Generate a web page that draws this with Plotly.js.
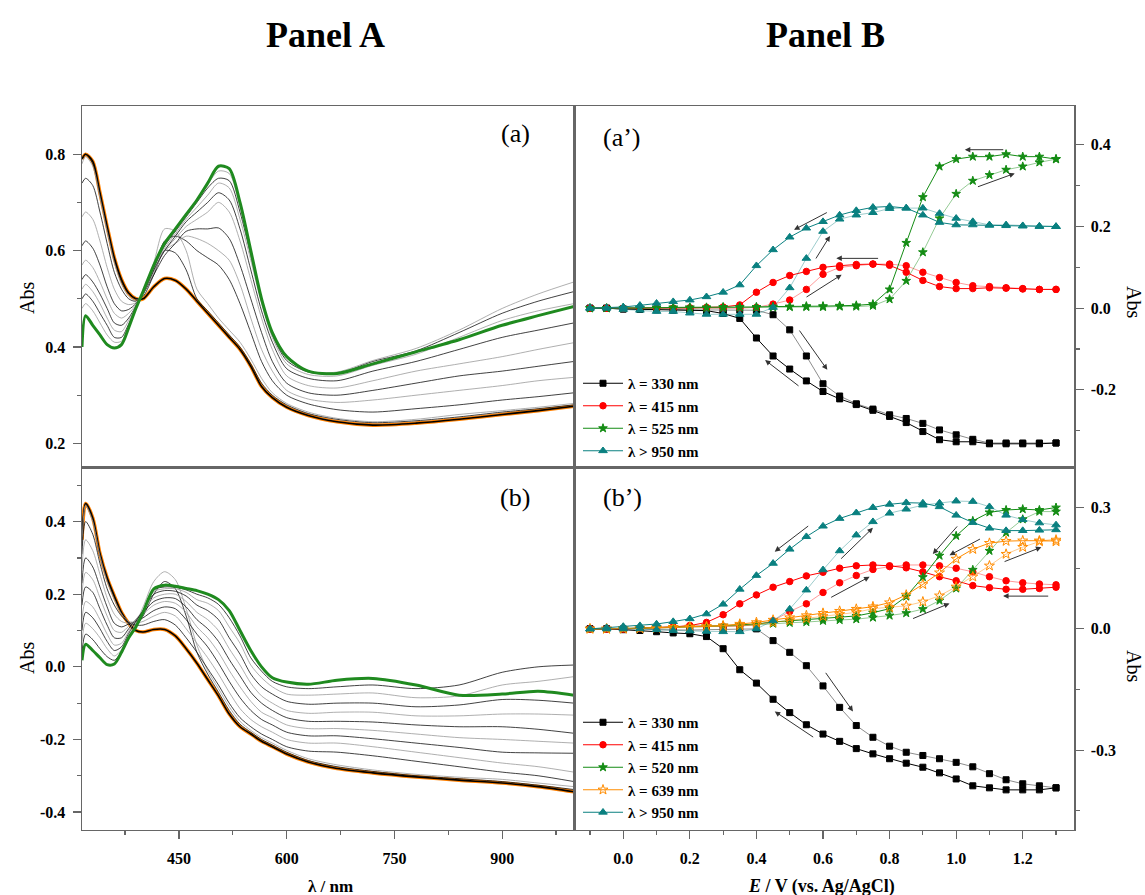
<!DOCTYPE html>
<html>
<head>
<meta charset="utf-8">
<script src="https://cdn.plot.ly/plotly-3.0.1.min.js"></script>
<style>html,body{margin:0;padding:0;background:#fff;}#chart{width:1145px;height:895px;}</style>
</head>
<body>
<div id="chart"></div>
<script>
// ---------------- Panel A : spectra (wavelength / nm) ----------------
const wl = [315, 320, 330, 340, 350, 360, 370, 380, 390, 400, 415, 430, 445, 460, 475, 490, 505, 520, 535, 550, 565, 580, 600, 630, 670, 720, 780, 840, 900, 950, 1000];

// (a) spectra
const a_start = [0.79, 0.80, 0.785, 0.72, 0.65, 0.585, 0.54, 0.512, 0.50, 0.50, 0.525, 0.542, 0.538, 0.52, 0.495, 0.47, 0.445, 0.42, 0.395, 0.36, 0.318, 0.295, 0.275, 0.258, 0.245, 0.238, 0.242, 0.25, 0.26, 0.268, 0.277];
const a_i1 = [0.79, 0.80, 0.78, 0.715, 0.645, 0.58, 0.535, 0.51, 0.50, 0.505, 0.55, 0.60, 0.595, 0.56, 0.50, 0.475, 0.45, 0.425, 0.40, 0.365, 0.325, 0.30, 0.28, 0.262, 0.25, 0.243, 0.247, 0.255, 0.265, 0.272, 0.28];
const a_i2 = [0.78, 0.795, 0.775, 0.71, 0.64, 0.575, 0.53, 0.505, 0.497, 0.51, 0.575, 0.645, 0.64, 0.60, 0.52, 0.49, 0.46, 0.435, 0.41, 0.375, 0.335, 0.305, 0.283, 0.265, 0.252, 0.245, 0.25, 0.26, 0.268, 0.275, 0.283];
const a_i3 = [0.74, 0.75, 0.735, 0.68, 0.615, 0.555, 0.52, 0.50, 0.495, 0.51, 0.56, 0.62, 0.63, 0.62, 0.60, 0.585, 0.57, 0.54, 0.49, 0.43, 0.37, 0.33, 0.30, 0.282, 0.27, 0.265, 0.272, 0.28, 0.29, 0.297, 0.305];
const a_i4 = [0.67, 0.68, 0.665, 0.62, 0.565, 0.52, 0.495, 0.488, 0.492, 0.51, 0.555, 0.60, 0.615, 0.63, 0.625, 0.615, 0.60, 0.58, 0.53, 0.46, 0.395, 0.35, 0.31, 0.292, 0.285, 0.29, 0.30, 0.31, 0.32, 0.33, 0.337];
const a_i5 = [0.61, 0.62, 0.605, 0.57, 0.525, 0.49, 0.475, 0.478, 0.49, 0.51, 0.55, 0.59, 0.615, 0.64, 0.645, 0.645, 0.647, 0.625, 0.57, 0.50, 0.43, 0.37, 0.325, 0.305, 0.30, 0.31, 0.325, 0.34, 0.35, 0.36, 0.37];
const a_i6 = [0.57, 0.58, 0.565, 0.535, 0.50, 0.47, 0.46, 0.47, 0.487, 0.51, 0.555, 0.60, 0.625, 0.65, 0.665, 0.68, 0.70, 0.68, 0.62, 0.54, 0.46, 0.395, 0.34, 0.32, 0.315, 0.33, 0.35, 0.365, 0.38, 0.395, 0.409];
const a_i7 = [0.54, 0.55, 0.535, 0.51, 0.48, 0.45, 0.445, 0.46, 0.485, 0.512, 0.56, 0.60, 0.63, 0.66, 0.68, 0.70, 0.72, 0.705, 0.645, 0.56, 0.475, 0.41, 0.355, 0.335, 0.33, 0.35, 0.37, 0.395, 0.42, 0.435, 0.45];
const a_i8 = [0.52, 0.53, 0.515, 0.49, 0.46, 0.435, 0.432, 0.455, 0.483, 0.513, 0.563, 0.605, 0.635, 0.665, 0.69, 0.715, 0.74, 0.73, 0.665, 0.58, 0.49, 0.42, 0.365, 0.343, 0.34, 0.362, 0.385, 0.42, 0.455, 0.475, 0.49];
const a_i9 = [0.50, 0.51, 0.495, 0.47, 0.445, 0.42, 0.42, 0.448, 0.482, 0.514, 0.566, 0.61, 0.64, 0.67, 0.70, 0.73, 0.75, 0.745, 0.68, 0.59, 0.495, 0.425, 0.372, 0.348, 0.345, 0.37, 0.392, 0.43, 0.47, 0.495, 0.515];
const a_i10 = [0.48, 0.49, 0.475, 0.45, 0.425, 0.41, 0.412, 0.444, 0.481, 0.515, 0.568, 0.612, 0.642, 0.672, 0.702, 0.737, 0.765, 0.76, 0.69, 0.595, 0.498, 0.428, 0.378, 0.35, 0.348, 0.372, 0.397, 0.435, 0.48, 0.51, 0.535];
const a_end = [0.40, 0.465, 0.445, 0.425, 0.405, 0.398, 0.405, 0.44, 0.48, 0.515, 0.57, 0.615, 0.645, 0.675, 0.705, 0.74, 0.775, 0.77, 0.70, 0.60, 0.50, 0.43, 0.38, 0.35, 0.345, 0.365, 0.39, 0.415, 0.445, 0.465, 0.484];

// (b) spectra
const b_start = [0.35, 0.45, 0.41, 0.312, 0.245, 0.195, 0.15, 0.12, 0.10, 0.096, 0.103, 0.103, 0.085, 0.05, 0.01, -0.035, -0.08, -0.13, -0.165, -0.185, -0.205, -0.22, -0.24, -0.262, -0.28, -0.292, -0.303, -0.312, -0.32, -0.33, -0.344];
const b_i1 = [0.34, 0.45, 0.405, 0.31, 0.24, 0.19, 0.148, 0.122, 0.115, 0.14, 0.20, 0.235, 0.215, 0.14, 0.04, -0.02, -0.07, -0.12, -0.158, -0.18, -0.20, -0.215, -0.235, -0.258, -0.275, -0.288, -0.30, -0.308, -0.316, -0.326, -0.338];
const b_i2 = [0.33, 0.445, 0.40, 0.305, 0.235, 0.185, 0.145, 0.125, 0.125, 0.165, 0.235, 0.262, 0.24, 0.16, 0.06, -0.01, -0.06, -0.11, -0.15, -0.175, -0.195, -0.21, -0.23, -0.253, -0.27, -0.284, -0.296, -0.304, -0.31, -0.32, -0.33];
const b_i3 = [0.31, 0.40, 0.365, 0.285, 0.215, 0.17, 0.14, 0.122, 0.115, 0.115, 0.125, 0.13, 0.115, 0.08, 0.04, -0.005, -0.05, -0.10, -0.14, -0.165, -0.185, -0.20, -0.22, -0.232, -0.235, -0.245, -0.26, -0.275, -0.29, -0.30, -0.316];
const b_i4 = [0.27, 0.35, 0.32, 0.255, 0.19, 0.145, 0.125, 0.12, 0.12, 0.125, 0.14, 0.15, 0.14, 0.105, 0.065, 0.025, -0.02, -0.07, -0.115, -0.145, -0.165, -0.18, -0.20, -0.21, -0.21, -0.22, -0.235, -0.25, -0.265, -0.275, -0.29];
const b_i5 = [0.23, 0.30, 0.275, 0.22, 0.165, 0.12, 0.11, 0.118, 0.125, 0.135, 0.155, 0.165, 0.16, 0.13, 0.09, 0.055, 0.01, -0.04, -0.085, -0.12, -0.145, -0.16, -0.18, -0.19, -0.19, -0.198, -0.21, -0.222, -0.235, -0.237, -0.238];
const b_i6 = [0.20, 0.26, 0.24, 0.19, 0.14, 0.10, 0.095, 0.112, 0.128, 0.145, 0.17, 0.18, 0.175, 0.15, 0.11, 0.08, 0.04, -0.01, -0.055, -0.095, -0.125, -0.14, -0.16, -0.17, -0.17, -0.175, -0.185, -0.195, -0.20, -0.205, -0.21];
const b_i7 = [0.17, 0.22, 0.205, 0.16, 0.115, 0.08, 0.08, 0.105, 0.13, 0.15, 0.18, 0.19, 0.188, 0.165, 0.13, 0.105, 0.07, 0.02, -0.025, -0.07, -0.10, -0.12, -0.14, -0.15, -0.15, -0.152, -0.16, -0.165, -0.165, -0.172, -0.183];
const b_i8 = [0.13, 0.18, 0.165, 0.13, 0.09, 0.06, 0.065, 0.098, 0.13, 0.155, 0.19, 0.20, 0.20, 0.18, 0.15, 0.13, 0.10, 0.05, 0.005, -0.045, -0.08, -0.10, -0.12, -0.128, -0.125, -0.125, -0.135, -0.135, -0.13, -0.13, -0.133];
const b_i9 = [0.10, 0.15, 0.135, 0.105, 0.07, 0.045, 0.055, 0.092, 0.125, 0.155, 0.20, 0.21, 0.208, 0.195, 0.17, 0.155, 0.13, 0.08, 0.035, -0.02, -0.055, -0.075, -0.095, -0.103, -0.10, -0.10, -0.11, -0.105, -0.09, -0.092, -0.10];
const b_i10 = [0.07, 0.12, 0.105, 0.08, 0.05, 0.03, 0.047, 0.086, 0.118, 0.152, 0.207, 0.215, 0.215, 0.205, 0.185, 0.175, 0.155, 0.11, 0.065, 0.005, -0.03, -0.055, -0.075, -0.078, -0.075, -0.072, -0.085, -0.08, -0.05, -0.04, -0.027];
const b_i11 = [0.04, 0.09, 0.075, 0.05, 0.028, 0.018, 0.043, 0.082, 0.113, 0.15, 0.212, 0.22, 0.219, 0.212, 0.20, 0.19, 0.172, 0.135, 0.085, 0.025, -0.012, -0.04, -0.055, -0.06, -0.055, -0.05, -0.06, -0.05, -0.015, 0.0, 0.005];
const b_end = [0.018, 0.062, 0.045, 0.025, 0.006, 0.008, 0.04, 0.08, 0.11, 0.15, 0.215, 0.225, 0.222, 0.216, 0.21, 0.20, 0.185, 0.155, 0.10, 0.045, 0.0, -0.03, -0.042, -0.048, -0.037, -0.032, -0.05, -0.078, -0.075, -0.067, -0.078];

// ---------------- Panel B : absorbance vs potential ----------------
const E = [-0.1, -0.05, 0, 0.05, 0.1, 0.15, 0.2, 0.25, 0.3, 0.35, 0.4, 0.45, 0.5, 0.55, 0.6, 0.65, 0.7, 0.75, 0.8, 0.85, 0.9, 0.95, 1.0, 1.05, 1.1, 1.15, 1.2, 1.25, 1.3];

// (a')
const ta_330_fwd = [0, 0, -0.002, -0.002, -0.003, -0.003, -0.004, -0.004, -0.005, -0.005, -0.005, -0.016, -0.053, -0.117, -0.185, -0.215, -0.234, -0.247, -0.261, -0.27, -0.282, -0.298, -0.31, -0.321, -0.33, -0.33, -0.33, -0.33, -0.33];
const ta_330_bwd = [0, 0, -0.002, -0.003, -0.004, -0.005, -0.005, -0.006, -0.013, -0.025, -0.073, -0.117, -0.149, -0.178, -0.204, -0.222, -0.236, -0.25, -0.265, -0.28, -0.302, -0.322, -0.327, -0.327, -0.332, -0.332, -0.332, -0.332, -0.33];
const ta_415_fwd = [0, 0, 0, 0, 0, 0, 0, 0, 0, 0, 0.002, 0.01, 0.02, 0.046, 0.083, 0.10, 0.104, 0.108, 0.108, 0.104, 0.088, 0.075, 0.063, 0.055, 0.053, 0.05, 0.048, 0.046, 0.046];
const ta_415_bwd = [0, 0, 0, 0, 0, 0, 0.001, 0.002, 0.003, 0.008, 0.039, 0.063, 0.080, 0.09, 0.10, 0.104, 0.107, 0.108, 0.105, 0.088, 0.068, 0.053, 0.048, 0.048, 0.05, 0.049, 0.047, 0.046, 0.046];
const ta_525_fwd = [0, 0, 0, 0, 0, 0, 0.001, 0.001, 0.001, 0.002, 0.002, 0.002, 0.003, 0.003, 0.003, 0.004, 0.004, 0.006, 0.022, 0.067, 0.137, 0.22, 0.28, 0.312, 0.326, 0.339, 0.347, 0.357, 0.365];
const ta_525_bwd = [0, 0, 0.001, 0.001, 0.001, 0.002, 0.002, 0.002, 0.003, 0.003, 0.003, 0.004, 0.004, 0.005, 0.005, 0.006, 0.007, 0.01, 0.046, 0.16, 0.272, 0.347, 0.365, 0.371, 0.371, 0.377, 0.371, 0.371, 0.365];
const ta_950_fwd = [0, 0, -0.003, -0.005, -0.008, -0.008, -0.012, -0.015, -0.015, -0.015, -0.015, 0.002, 0.05, 0.122, 0.188, 0.218, 0.228, 0.234, 0.244, 0.245, 0.245, 0.232, 0.22, 0.212, 0.204, 0.204, 0.202, 0.201, 0.2];
const ta_950_bwd = [0, 0.001, 0.003, 0.007, 0.012, 0.016, 0.02, 0.028, 0.039, 0.057, 0.104, 0.143, 0.174, 0.196, 0.212, 0.228, 0.239, 0.247, 0.249, 0.245, 0.228, 0.21, 0.204, 0.204, 0.203, 0.202, 0.201, 0.2, 0.2];

// (b')
const tb_330_fwd = [0, 0, 0, 0, -0.002, -0.003, -0.003, -0.002, -0.001, 0, 0, -0.029, -0.058, -0.091, -0.141, -0.194, -0.239, -0.268, -0.29, -0.305, -0.313, -0.321, -0.33, -0.341, -0.358, -0.373, -0.383, -0.388, -0.393];
const tb_330_bwd = [0, 0, -0.002, -0.004, -0.007, -0.01, -0.012, -0.019, -0.049, -0.101, -0.134, -0.174, -0.207, -0.237, -0.26, -0.278, -0.296, -0.309, -0.321, -0.332, -0.342, -0.356, -0.371, -0.388, -0.393, -0.398, -0.398, -0.398, -0.393];
const tb_415_fwd = [0, 0, 0, 0.001, 0.002, 0.004, 0.008, 0.007, 0.006, 0.007, 0.01, 0.02, 0.043, 0.062, 0.09, 0.114, 0.132, 0.147, 0.154, 0.158, 0.158, 0.156, 0.15, 0.141, 0.129, 0.119, 0.114, 0.111, 0.109];
const tb_415_bwd = [0, 0, 0, 0.002, 0.003, 0.005, 0.008, 0.016, 0.035, 0.062, 0.084, 0.103, 0.117, 0.131, 0.14, 0.15, 0.156, 0.158, 0.156, 0.151, 0.141, 0.129, 0.119, 0.107, 0.102, 0.098, 0.098, 0.1, 0.103];
const tb_520_fwd = [0, 0, 0, 0.001, 0.002, 0.003, 0.004, 0.005, 0.006, 0.008, 0.01, 0.013, 0.015, 0.017, 0.02, 0.022, 0.024, 0.028, 0.033, 0.039, 0.049, 0.07, 0.10, 0.146, 0.193, 0.238, 0.271, 0.29, 0.29];
const tb_520_bwd = [0, 0, 0.001, 0.002, 0.003, 0.004, 0.005, 0.006, 0.008, 0.01, 0.012, 0.017, 0.02, 0.022, 0.025, 0.028, 0.032, 0.04, 0.05, 0.08, 0.128, 0.181, 0.23, 0.267, 0.288, 0.294, 0.296, 0.294, 0.3];
const tb_639_fwd = [0, 0, 0, 0.001, 0.002, 0.003, 0.004, 0.005, 0.006, 0.008, 0.011, 0.016, 0.021, 0.026, 0.031, 0.036, 0.041, 0.05, 0.053, 0.057, 0.067, 0.082, 0.104, 0.129, 0.156, 0.185, 0.202, 0.216, 0.216];
const tb_639_bwd = [0, 0, 0.001, 0.002, 0.003, 0.004, 0.005, 0.006, 0.008, 0.012, 0.016, 0.022, 0.028, 0.033, 0.039, 0.044, 0.049, 0.055, 0.065, 0.084, 0.11, 0.139, 0.173, 0.197, 0.212, 0.217, 0.218, 0.218, 0.22];
const tb_950_fwd = [0, 0, 0, 0, -0.002, -0.004, -0.005, -0.006, -0.007, -0.007, 0.0, 0.02, 0.049, 0.096, 0.146, 0.193, 0.232, 0.265, 0.286, 0.296, 0.306, 0.311, 0.316, 0.315, 0.302, 0.281, 0.27, 0.262, 0.257];
const tb_950_bwd = [0, 0.003, 0.006, 0.008, 0.012, 0.018, 0.025, 0.037, 0.061, 0.098, 0.132, 0.162, 0.197, 0.228, 0.254, 0.273, 0.287, 0.3, 0.308, 0.312, 0.311, 0.302, 0.281, 0.263, 0.249, 0.243, 0.243, 0.244, 0.245];

// scan-direction arrows [E_tail, A_tail, E_head, A_head]
const arrowsTop = [
  [0.616, 0.236, 0.513, 0.192], [0.576, 0.118, 0.621, 0.177], [0.77, 0.122, 0.64, 0.122],
  [0.546, 0.025, 0.656, 0.082], [0.526, -0.051, 0.613, -0.151], [0.531, -0.193, 0.426, -0.127],
  [1.146, 0.388, 1.026, 0.388], [1.061, 0.296, 1.176, 0.33]
];
const arrowsBot = [
  [0.56, 0.257, 0.455, 0.191], [0.65, 0.17, 0.75, 0.25], [0.62, 0.076, 0.74, 0.129],
  [0.605, -0.105, 0.69, -0.204], [0.575, -0.27, 0.455, -0.204], [1.007, 0.257, 0.93, 0.185],
  [1.076, 0.224, 0.98, 0.182], [1.141, 0.165, 1.256, 0.202], [1.281, 0.081, 1.141, 0.081],
  [0.866, 0.024, 0.98, 0.063]
];

// tick labels
const xTickA = [450, 600, 750, 900];
const xTickAText = ['450', '600', '750', '900'];
const yTickA1 = [0.2, 0.4, 0.6, 0.8];
const yTickA1Text = ['0.2', '0.4', '0.6', '0.8'];
const yTickA2 = [-0.4, -0.2, 0, 0.2, 0.4];
const yTickA2Text = ['-0.4', '-0.2', '0.0', '0.2', '0.4'];
const xTickB = [0, 0.2, 0.4, 0.6, 0.8, 1.0, 1.2];
const xTickBText = ['0.0', '0.2', '0.4', '0.6', '0.8', '1.0', '1.2'];
const yTickB1 = [-0.2, 0, 0.2, 0.4];
const yTickB1Text = ['-0.2', '0.0', '0.2', '0.4'];
const yTickB2 = [-0.3, 0, 0.3];
const yTickB2Text = ['-0.3', '0.0', '0.3'];

// ---------------- build ----------------
const FONT = '"Liberation Serif", "Times New Roman", Times, serif';
const W = 1145, H = 895;
const px = v => v / W, py = v => 1 - v / H;
const xA = [px(82), px(574)], xB = [px(574), px(1074)];
const yTop = [py(467.5), py(106)], yBot = [py(829.5), py(467.5)];
const LC = '#666';

const traces = [];
function specFamily(start, mids, end, xa, ya) {
  traces.push({x: wl, y: start, xaxis: xa, yaxis: ya, mode: 'lines', line: {color: '#ff8000', width: 3.6, shape: 'spline', smoothing: 0.8}, showlegend: false});
  traces.push({x: wl, y: start, xaxis: xa, yaxis: ya, mode: 'lines', line: {color: '#000', width: 1.6, shape: 'spline', smoothing: 0.8}, showlegend: false});
  mids.forEach((m, i) => traces.push({x: wl, y: m, xaxis: xa, yaxis: ya, mode: 'lines',
    line: {color: i % 2 ? '#9a9a9a' : '#111', width: 0.8, shape: 'spline', smoothing: 0.8}, showlegend: false}));
  traces.push({x: wl, y: end, xaxis: xa, yaxis: ya, mode: 'lines', line: {color: '#1f8a1f', width: 3, shape: 'spline', smoothing: 0.8}, showlegend: false});
}
specFamily(a_start, [a_i1, a_i2, a_i3, a_i4, a_i5, a_i6, a_i7, a_i8, a_i9, a_i10], a_end, 'x', 'y');
specFamily(b_start, [b_i1, b_i2, b_i3, b_i4, b_i5, b_i6, b_i7, b_i8, b_i9, b_i10, b_i11], b_end, 'x2', 'y2');

function loop(name, fwd, bwd, color, light, symbol, size, xa, ya, leg) {
  traces.push({x: E, y: fwd, xaxis: xa, yaxis: ya, mode: 'lines+markers', showlegend: false,
    line: {color: light, width: 1}, marker: {color: color, symbol: symbol, size: size, line: {color: color, width: 1}}});
  traces.push({x: E, y: bwd, xaxis: xa, yaxis: ya, mode: 'lines+markers', name: name, legend: leg,
    line: {color: color, width: 1}, marker: {color: color, symbol: symbol, size: size, line: {color: color, width: 1}}});
}
loop('λ = 330 nm', ta_330_fwd, ta_330_bwd, '#000', 'rgba(0,0,0,0.45)', 'square', 6, 'x3', 'y3', 'legend');
loop('λ = 415 nm', ta_415_fwd, ta_415_bwd, '#ff0000', 'rgba(255,0,0,0.4)', 'circle', 6.5, 'x3', 'y3', 'legend');
loop('λ = 525 nm', ta_525_fwd, ta_525_bwd, '#148c14', 'rgba(20,140,20,0.45)', 'star', 6.5, 'x3', 'y3', 'legend');
loop('λ > 950 nm', ta_950_fwd, ta_950_bwd, '#0a8080', 'rgba(10,128,128,0.4)', 'triangle-up', 7.5, 'x3', 'y3', 'legend');

loop('λ = 330 nm', tb_330_fwd, tb_330_bwd, '#000', 'rgba(0,0,0,0.45)', 'square', 6, 'x4', 'y4', 'legend2');
loop('λ = 415 nm', tb_415_fwd, tb_415_bwd, '#ff0000', 'rgba(255,0,0,0.4)', 'circle', 6.5, 'x4', 'y4', 'legend2');
loop('λ = 520 nm', tb_520_fwd, tb_520_bwd, '#148c14', 'rgba(20,140,20,0.45)', 'star', 6.5, 'x4', 'y4', 'legend2');
loop('λ = 639 nm', tb_639_fwd, tb_639_bwd, '#ff8c00', 'rgba(255,140,0,0.45)', 'star-open', 7.5, 'x4', 'y4', 'legend2');
loop('λ > 950 nm', tb_950_fwd, tb_950_bwd, '#0a8080', 'rgba(10,128,128,0.4)', 'triangle-up', 7.5, 'x4', 'y4', 'legend2');

const tickFont = {family: FONT, size: 16, color: '#000', weight: 'bold'};
function yax(domain, anchor, range, tv, tt, minor, side) {
  return {domain, anchor, range, side: side || 'left', tickmode: 'array', tickvals: tv, ticktext: tt,
    ticks: 'outside', ticklen: 8, tickwidth: 1.2, tickcolor: LC, tickfont: tickFont, ticklabelstandoff: 4,
    minor: {tickmode: 'array', tickvals: minor, ticks: 'outside', ticklen: 4, tickcolor: LC, tickwidth: 1.2},
    showline: true, mirror: true, linecolor: LC, linewidth: 1.5, showgrid: false, zeroline: false, fixedrange: true};
}
function xax(domain, anchor, range, tv, tt, minor) {
  const a = {domain, anchor, range, showline: true, mirror: true, linecolor: LC, linewidth: 1.5,
    showgrid: false, zeroline: false, fixedrange: true};
  if (tv) Object.assign(a, {tickmode: 'array', tickvals: tv, ticktext: tt, ticks: 'outside', ticklen: 8, tickwidth: 1.2,
    tickcolor: LC, tickfont: tickFont, ticklabelstandoff: 6,
    minor: {tickmode: 'array', tickvals: minor, ticks: 'outside', ticklen: 4, tickcolor: LC, tickwidth: 1.2}});
  else Object.assign(a, {showticklabels: false, ticks: ''});
  return a;
}

const ann = [];
function txt(t, x, y, size, opts) {
  ann.push(Object.assign({text: t, x: px(x), y: py(y), xref: 'paper', yref: 'paper', showarrow: false,
    xanchor: 'center', yanchor: 'middle', font: {family: FONT, size: size, color: '#000'}}, opts || {}));
}
txt('<b>Panel A</b>', 325, 35, 36);
txt('<b>Panel B</b>', 825, 35, 36);
txt('(a)', 515, 133, 26);
txt('(b)', 515, 497, 26);
txt('(a’)', 622, 137, 26);
txt('(b’)', 622, 497, 26);
txt('Abs', 27, 298, 20, {textangle: -90});
txt('Abs', 27, 658, 20, {textangle: -90});
txt('Abs', 1134, 302, 20, {textangle: 90});
txt('Abs', 1134, 666, 20, {textangle: 90});
txt('<b>λ / nm</b>', 330, 886, 17);
txt('<b><i>E</i> / V (vs. Ag/AgCl)</b>', 821, 886, 18);

function arrows(list, xa, ya) {
  list.forEach(a => ann.push({x: a[2], y: a[3], ax: a[0], ay: a[1], xref: xa, yref: ya, axref: xa, ayref: ya,
    text: '', showarrow: true, arrowhead: 2, arrowsize: 1.1, arrowwidth: 1, arrowcolor: '#333', standoff: 0, startstandoff: 0}));
}
arrows(arrowsTop, 'x3', 'y3');
arrows(arrowsBot, 'x4', 'y4');

const legFont = {family: FONT, size: 15, color: '#000', weight: 'bold'};
const layout = {
  width: W, height: H, margin: {l: 0, r: 0, t: 0, b: 0},
  paper_bgcolor: '#fff', plot_bgcolor: '#fff', hovermode: false, showlegend: true,
  xaxis: xax(xA, 'y', [315, 1000]),
  yaxis: yax(yTop, 'x', [0.15, 0.9], yTickA1, yTickA1Text, [0.3, 0.5, 0.7]),
  xaxis2: xax(xA, 'y2', [315, 1000], xTickA, xTickAText, [375, 525, 675, 825, 975]),
  yaxis2: yax(yBot, 'x2', [-0.448, 0.549], yTickA2, yTickA2Text, [-0.3, -0.1, 0.1, 0.3, 0.5]),
  xaxis3: xax(xB, 'y3', [-0.148, 1.354]),
  yaxis3: yax(yTop, 'x3', [-0.39, 0.495], yTickB1, yTickB1Text, [-0.3, -0.1, 0.1, 0.3], 'right'),
  xaxis4: xax(xB, 'y4', [-0.148, 1.354], xTickB, xTickBText, [-0.1, 0.1, 0.3, 0.5, 0.7, 0.9, 1.1, 1.3]),
  yaxis4: yax(yBot, 'x4', [-0.496, 0.399], yTickB2, yTickB2Text, [-0.45, -0.15, 0.15], 'right'),
  legend: {x: px(578), y: py(367), xanchor: 'left', yanchor: 'top', bgcolor: 'rgba(0,0,0,0)', font: legFont, itemwidth: 40, tracegroupgap: 0},
  legend2: {x: px(578), y: py(706), xanchor: 'left', yanchor: 'top', bgcolor: 'rgba(0,0,0,0)', font: legFont, itemwidth: 40, tracegroupgap: 0},
  annotations: ann
};
Plotly.newPlot('chart', traces, layout, {staticPlot: true, displayModeBar: false});
</script>
</body>
</html>
